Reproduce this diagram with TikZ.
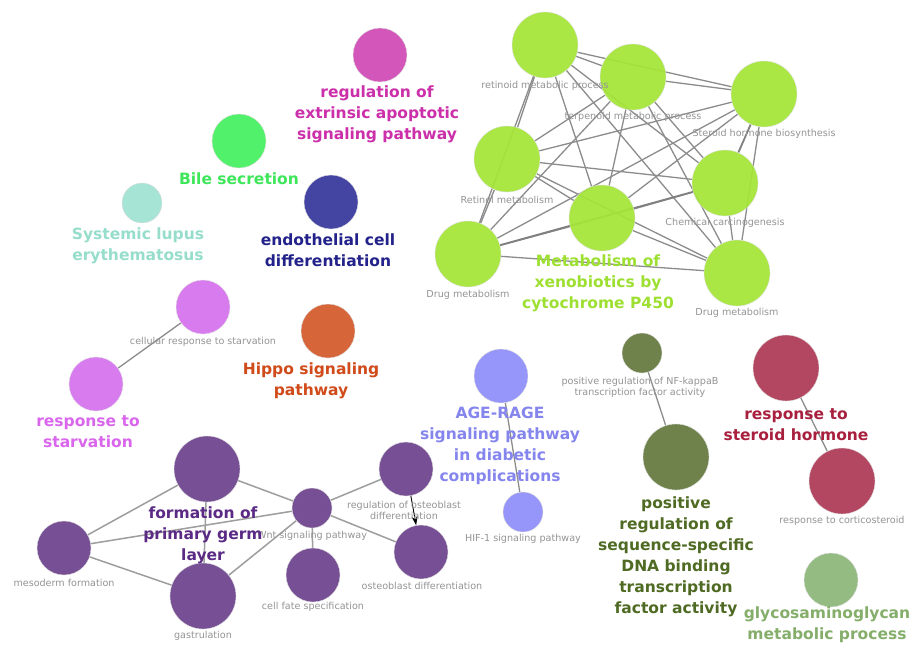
\documentclass[tikz,border=0pt]{standalone}
\usepackage{fontspec}
\setmainfont{DejaVu Sans}
\usetikzlibrary{arrows.meta}
\pgfdeclarelayer{background}
\pgfdeclarelayer{canvas}
\pgfsetlayers{canvas,background,main}
\definecolor{cGreen}{HTML}{A5E636}
\definecolor{cGreenL}{HTML}{9EE032}
\definecolor{cMag}{HTML}{D04AB5}
\definecolor{cMagL}{HTML}{CC2FAA}
\definecolor{cBile}{HTML}{45F060}
\definecolor{cBileL}{HTML}{3EE65A}
\definecolor{cLupus}{HTML}{A0E2D2}
\definecolor{cLupusL}{HTML}{96DECB}
\definecolor{cNavy}{HTML}{36369C}
\definecolor{cNavyL}{HTML}{22228A}
\definecolor{cPink}{HTML}{D672EE}
\definecolor{cPinkL}{HTML}{D966EC}
\definecolor{cOrange}{HTML}{D45A2C}
\definecolor{cOrangeL}{HTML}{D04A1A}
\definecolor{cPeri}{HTML}{8E8EFA}
\definecolor{cPeriL}{HTML}{8585EE}
\definecolor{cOlive}{HTML}{65793F}
\definecolor{cOliveL}{HTML}{4F6A22}
\definecolor{cRed}{HTML}{AE3A55}
\definecolor{cRedL}{HTML}{A8203E}
\definecolor{cSage}{HTML}{8CB678}
\definecolor{cSageL}{HTML}{84AE6A}
\definecolor{cPurple}{HTML}{6C428E}
\definecolor{cPurpleL}{HTML}{5A2A85}
\tikzset{
  term/.style={circle, inner sep=0pt, draw=black!12, line width=0.4pt, fill opacity=0.93},
  bigterm/.style={term, minimum size=66pt},
  midterm/.style={term, minimum size=54pt},
  smlterm/.style={term, minimum size=40pt},
  lab/.style={font=\fontsize{9.6}{11.5}\selectfont, text=black!42, align=center, inner sep=0pt},
  grp/.style={font=\fontsize{15.5}{21}\selectfont\bfseries, align=center, inner sep=0pt},
  edge/.style={draw=black!45, line width=1.3pt},
  thickedge/.style={draw=black!50, line width=1.8pt},
  pedge/.style={draw=black!38, line width=1.5pt},
}
\begin{document}
\begin{tikzpicture}[x=1pt,y=-1pt]
\begin{pgfonlayer}{canvas}
\fill[white] (0,0) rectangle (915,653);
\end{pgfonlayer}
\useasboundingbox (0,0) rectangle (915,653);

% ---- green cluster ----
\node[bigterm, fill=cGreen] (g1) at (545,45) {};
\node[bigterm, fill=cGreen] (g2) at (633,77) {};
\node[bigterm, fill=cGreen] (g3) at (764,94) {};
\node[bigterm, fill=cGreen] (g4) at (507,159) {};
\node[bigterm, fill=cGreen] (g5) at (602,218) {};
\node[bigterm, fill=cGreen] (g6) at (725,183) {};
\node[bigterm, fill=cGreen] (g7) at (468,254) {};
\node[bigterm, fill=cGreen] (g8) at (737,273) {};
\begin{pgfonlayer}{background}
\foreach \a/\b in {g1/g2,g1/g3,g1/g4,g1/g5,g1/g6,g1/g7,g1/g8,
  g2/g3,g2/g4,g2/g5,g2/g6,g2/g7,g2/g8,
  g3/g4,g3/g5,g3/g7,g3/g8,
  g4/g5,g4/g6,g4/g7,g4/g8,
  g5/g6,g5/g7,g5/g8,
  g6/g8,g7/g8}
  \draw[edge] (\a) -- (\b);
\draw[thickedge] (g7) -- (g6);
\draw[thickedge] (g3) -- (g6);
\end{pgfonlayer}
\node[lab] (lg1) at (545,86) {retinoid metabolic process};
\node[lab] (lg2) at (633,117) {terpenoid metabolic process};
\node[lab] (lg3) at (764,134) {Steroid hormone biosynthesis};
\node[lab] (lg4) at (507,200) {Retinol metabolism};
\node[lab] (lg6) at (725,223) {Chemical carcinogenesis};
\node[lab] (lg7) at (468,295) {Drug metabolism};
\node[lab] (lg8) at (737,313) {Drug metabolism};
\node[grp, text=cGreenL] (Lg) at (598,283) {Metabolism of\\xenobiotics by\\cytochrome P450};

% ---- single terms ----
\node[midterm, fill=cMag] (m1) at (380,55) {};
\node[grp, text=cMagL] (Lm) at (377,114) {regulation of\\extrinsic apoptotic\\signaling pathway};

\node[midterm, fill=cBile] (b1) at (239,141) {};
\node[grp, text=cBileL] (Lb) at (239,179) {Bile secretion};

\node[smlterm, fill=cLupus] (s1) at (142,203) {};
\node[grp, text=cLupusL] (Ls) at (138,245.5) {Systemic lupus\\erythematosus};

\node[midterm, fill=cNavy] (n1) at (331,202) {};
\node[grp, text=cNavyL] (Ln) at (328,250) {endothelial cell\\differentiation};

\node[midterm, fill=cOrange] (o1) at (328,331) {};
\node[grp, text=cOrangeL] (Lo) at (311,380.5) {Hippo signaling\\pathway};

% ---- starvation ----
\node[midterm, fill=cPink] (p1) at (203,307) {};
\node[midterm, fill=cPink] (p2) at (96,384) {};
\begin{pgfonlayer}{background}
\draw[edge] (p1) -- (p2);
\end{pgfonlayer}
\node[lab] (lp1) at (203,342) {cellular response to starvation};
\node[grp, text=cPinkL] (Lp) at (88,432) {response to\\starvation};

% ---- AGE-RAGE ----
\node[midterm, fill=cPeri] (a1) at (501,376) {};
\node[smlterm, fill=cPeri] (a2) at (523,512) {};
\begin{pgfonlayer}{background}
\draw[edge] (a1) -- (a2);
\end{pgfonlayer}
\node[grp, text=cPeriL] (La) at (500,446) {AGE-RAGE\\signaling pathway\\in diabetic\\complications};
\node[lab] (la2) at (523,539) {HIF-1 signaling pathway};

% ---- transcription factor ----
\node[smlterm, fill=cOlive] (t1) at (642,353) {};
\node[bigterm, fill=cOlive] (t2) at (676,457) {};
\begin{pgfonlayer}{background}
\draw[edge] (t1) -- (t2);
\end{pgfonlayer}
\node[lab] (lt1) at (640,387.5) {positive regulation of NF-kappaB\\transcription factor activity};
\node[grp, text=cOliveL] (Lt) at (676,557) {positive\\regulation of\\sequence-specific\\DNA binding\\transcription\\factor activity};

% ---- steroid hormone ----
\node[bigterm, fill=cRed] (r1) at (786,368) {};
\node[bigterm, fill=cRed] (r2) at (842,481) {};
\begin{pgfonlayer}{background}
\draw[edge] (r1) -- (r2);
\end{pgfonlayer}
\node[grp, text=cRedL] (Lr) at (796,424.5) {response to\\steroid hormone};
\node[lab] (lr2) at (842,521) {response to corticosteroid};

% ---- glycosaminoglycan ----
\node[midterm, fill=cSage] (y1) at (831,580) {};
\node[grp, text=cSageL] (Ly) at (827,625) {glycosaminoglycan\\metabolic process};

% ---- purple cluster ----
\node[bigterm, fill=cPurple] (u1) at (207,469) {};
\node[midterm, fill=cPurple] (u2) at (64,548) {};
\node[bigterm, fill=cPurple] (u3) at (203,596) {};
\node[smlterm, fill=cPurple] (u4) at (312,508) {};
\node[midterm, fill=cPurple] (u5) at (406,469) {};
\node[midterm, fill=cPurple] (u6) at (421,552) {};
\node[midterm, fill=cPurple] (u7) at (313,575) {};
\begin{pgfonlayer}{background}
\foreach \a/\b in {u1/u2,u1/u3,u1/u4,u2/u4,u2/u3,u3/u4,u4/u5,u4/u6,u4/u7}
  \draw[pedge] (\a) -- (\b);
\end{pgfonlayer}
\draw[black, line width=0.9pt, -{Stealth[length=9pt,width=6pt]}] (u5) -- (u6);
\node[lab] (lu2) at (64,583) {mesoderm formation};
\node[lab] (lu3) at (203,636) {gastrulation};
\node[lab] (lu4) at (312,536) {Wnt signaling pathway};
\node[lab] (lu5) at (404,510.5) {regulation of osteoblast\\differentiation};
\node[lab] (lu6) at (422,586) {osteoblast differentiation};
\node[lab] (lu7) at (313,607) {cell fate specification};
\node[grp, text=cPurpleL] (Lu) at (203,535) {formation of\\primary germ\\layer};
\end{tikzpicture}
\end{document}
